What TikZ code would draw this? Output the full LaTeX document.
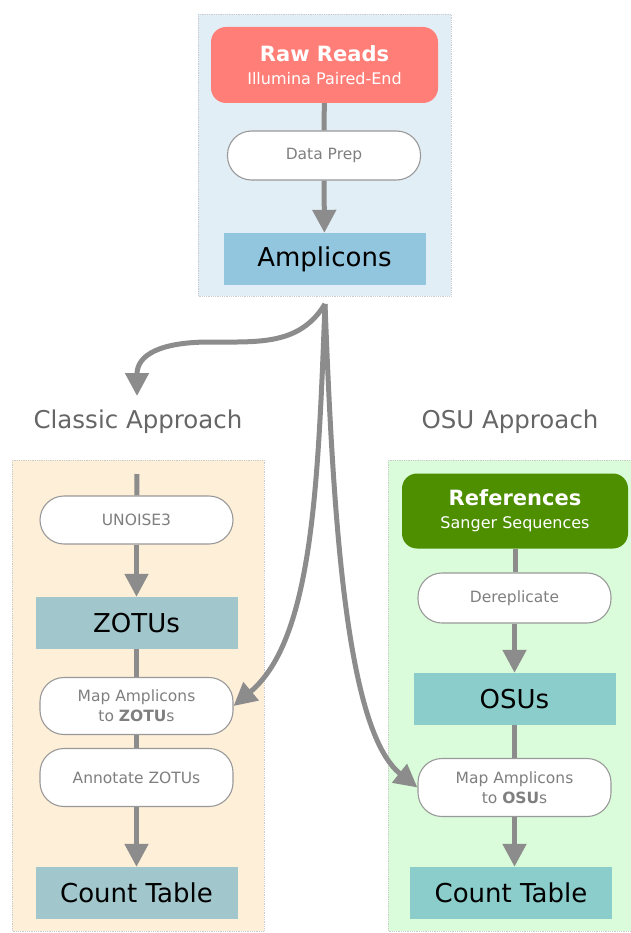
\documentclass[tikz,border=0pt]{standalone}
\usepackage{fontspec}
\setmainfont{DejaVu Sans}
\usepackage{tikz}
\usetikzlibrary{arrows.meta,positioning}
\definecolor{rawred}{HTML}{FF7F78}
\definecolor{refgreen}{HTML}{4E8F00}
\definecolor{topbg}{HTML}{E2EEF5}
\definecolor{leftbg}{HTML}{FDEFD8}
\definecolor{rightbg}{HTML}{DAFCDA}
\definecolor{ampblue}{HTML}{92C5DE}
\definecolor{zotublue}{HTML}{A1C6CC}
\definecolor{osuteal}{HTML}{8BCDCB}
\definecolor{linkgray}{HTML}{8C8C8C}
\definecolor{pillgray}{HTML}{999999}
\definecolor{textgray}{HTML}{7F7F7F}
\definecolor{headgray}{HTML}{666666}

\begin{document}
\begin{tikzpicture}[x=1pt, y=-1pt,
  panel/.style={draw=pillgray!50, densely dotted, line width=0.8pt},
  pill/.style={draw=pillgray, line width=1.1pt, fill=white, rounded corners=24pt,
    minimum width=193pt, inner sep=0pt, align=center, text=textgray,
    font=\fontsize{15.5}{20}\selectfont},
  bigbox/.style={minimum width=202pt, minimum height=52pt, inner sep=0pt,
    font=\fontsize{26}{30}\selectfont},
  source/.style={rounded corners=15pt, minimum width=227pt, minimum height=76pt,
    inner sep=0pt, align=center, text=white, font=\fontsize{16}{23}\selectfont},
  approach/.style={text=headgray, font=\fontsize{24.5}{28}\selectfont},
  link/.style={draw=linkgray, line width=5pt},
  flow/.style={link, -{Triangle[length=23pt,width=23pt]}}]
\useasboundingbox (0,0) rectangle (630,933);

%%%%% Panels %%%%%
\draw[panel, fill=topbg] (198,14) rectangle (451,296);
\draw[panel, fill=leftbg] (12,460) rectangle (264,931);
\draw[panel, fill=rightbg] (388,460) rectangle (640,931);

%%%%% Shared steps %%%%%
\node[source, fill=rawred] (raw) at (324.5,65)
  {{\fontsize{21}{23}\selectfont\bfseries Raw Reads}\\
   Illumina Paired-End};
\node[pill, minimum height=49pt] (prep) at (324,155.5) {Data Prep};
\node[bigbox, fill=ampblue] (amp) at (324.5,259) {Amplicons};
\coordinate (split) at (325,304);

%%%%% Classic approach %%%%%
\node[approach] (classic) at (138,422) {Classic Approach};
\coordinate (classicin) at (137,396);
\coordinate (classictop) at (137,474);
\node[pill, minimum height=48pt] (unoise) at (136.5,520) {UNOISE3};
\node[bigbox, fill=zotublue] (zotus) at (136.5,623) {ZOTUs};
\node[pill, minimum height=57pt] (mapz) at (136.5,706) {Map Amplicons\\ to \textbf{ZOTU}s};
\node[pill, minimum height=58pt] (annot) at (136.5,777.5) {Annotate ZOTUs};
\node[bigbox, fill=zotublue] (countl) at (136.5,893) {Count Table};

%%%%% OSU approach %%%%%
\node[approach] (osu) at (510,422) {OSU Approach};
\node[source, fill=refgreen, minimum width=226pt, minimum height=75pt] (refs) at (515,511)
  {{\fontsize{21}{23}\selectfont\bfseries References}\\
   Sanger Sequences};
\node[pill, minimum height=50pt] (derep) at (514.5,598) {Dereplicate};
\node[bigbox, fill=osuteal] (osus) at (514.5,699) {OSUs};
\node[pill, minimum height=58pt] (mapo) at (514.5,787.5) {Map Amplicons\\ to \textbf{OSU}s};
\node[bigbox, fill=osuteal] (countr) at (511,893) {Count Table};

%%%%% Links %%%%%
\draw[link] (raw) -- (prep);
\draw[flow] (prep) -- (amp);
\draw[link] (classictop) -- (unoise);
\draw[flow] (unoise) -- (zotus);
\draw[link] (zotus) -- (mapz);
\draw[link] (mapz) -- (annot);
\draw[flow] (annot) -- (countl);
\draw[link] (refs.south) -- (refs.south |- derep.north);
\draw[flow] (derep.south) -- (derep.south |- osus.north);
\draw[link] (osus.south) -- (osus.south |- mapo.north);
\draw[flow] (mapo.south) -- (mapo.south |- countr.north);

%%%%% Branches %%%%%
\draw[flow] (split) .. controls (300,345) and (260,342) .. (210,342)
  .. controls (160,342) and (137,355) .. (classicin);
\draw[flow] (split) .. controls (318,490) and (312,640) .. (mapz.east);
\draw[flow] (split) .. controls (333,510) and (345,730) .. (mapo.west);
\end{tikzpicture}
\end{document}
